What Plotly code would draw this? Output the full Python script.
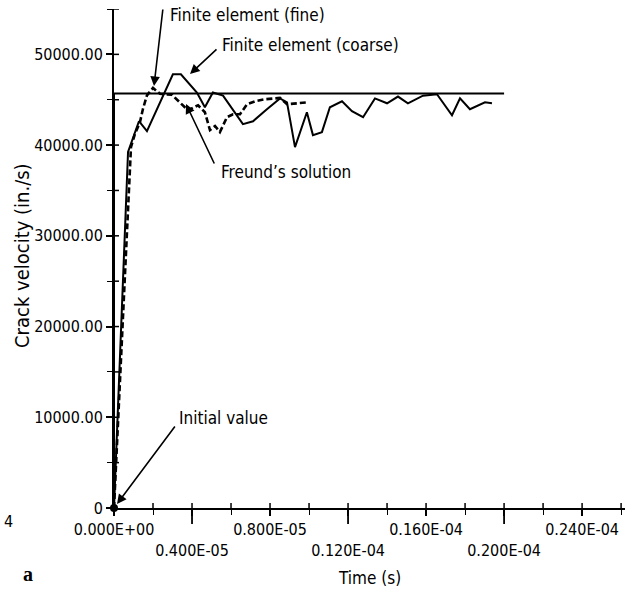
import plotly.graph_objects as go

# ---------------- data ----------------
t_coarse = [0, 0.72e-6, 1.28e-6, 1.69e-6, 3.02e-6, 3.43e-6, 4.25e-6, 4.66e-6, 5.07e-6, 5.59e-6,
            6.61e-6, 7.13e-6, 7.84e-6, 8.51e-6, 8.87e-6, 9.28e-6, 9.89e-6, 10.20e-6, 10.66e-6, 11.07e-6,
            11.69e-6, 12.20e-6, 12.77e-6, 13.38e-6, 14.00e-6, 14.56e-6, 15.07e-6, 15.84e-6, 16.56e-6, 17.33e-6,
            17.74e-6, 18.25e-6, 19.02e-6, 19.38e-6]
v_coarse = [0, 39240, 42630, 41540, 47800, 47800, 45800, 44170, 45800, 45450,
            42310, 42630, 43950, 45150, 44720, 39780, 43620, 41100, 41430, 44170,
            44830, 43730, 43070, 45150, 44610, 45350, 44610, 45450, 45600, 43290,
            45150, 43950, 44720, 44610]

t_fine = [0, 0.87e-6, 1.07e-6, 1.33e-6, 1.48e-6, 1.69e-6, 2.00e-6, 2.36e-6, 2.97e-6, 3.38e-6,
          3.79e-6, 4.31e-6, 4.66e-6, 4.92e-6, 5.18e-6, 5.43e-6, 5.79e-6, 6.10e-6, 6.46e-6, 6.82e-6,
          7.23e-6, 7.74e-6, 8.51e-6, 8.87e-6, 9.38e-6, 9.95e-6]
v_fine = [0, 39780, 41210, 42520, 43950, 45480, 46300, 45650, 45550, 44720,
          43840, 44390, 43620, 41650, 42100, 41430, 43070, 43400, 43400, 44500,
          44830, 45050, 45200, 44500, 44610, 44720]

t_freund = [0, 0, 2.0e-5]
v_freund = [0, 45700, 45700]

x_tickvals = [0, 4e-6, 8e-6, 12e-6, 16e-6, 20e-6, 24e-6]
x_ticktext = ["0.000E+00", "0.400E-05", "0.800E-05", "0.120E-04", "0.160E-04", "0.200E-04", "0.240E-04"]
y_tickvals = [0, 10000, 20000, 30000, 40000, 50000]
y_ticktext = ["0", "10000.00", "20000.00", "30000.00", "40000.00", "50000.00"]

X_MAX = 26.2e-6
Y_MAX = 55000
X_MINOR = 2e-6
Y_MINOR = 5000

# ---------------- layout helpers (pixel -> paper coords for labels) ----------------
L, R, T, B = 114, 3, 9, 87
W, H = 628, 595
PW, PH = W - L - R, H - T - B


def PX(px):
    return (px - L) / PW


def PY(py):
    return (H - B - py) / PH


def X(px):
    return PX(px) * X_MAX


def Y(py):
    return PY(py) * Y_MAX


FONT = "DejaVu Sans Condensed, Liberation Sans Narrow, Arial Narrow, sans-serif"

fig = go.Figure()
fig.add_trace(go.Scatter(x=t_freund, y=v_freund, mode="lines",
                         line=dict(color="black", width=2), showlegend=False))
fig.add_trace(go.Scatter(x=t_coarse, y=v_coarse, mode="lines",
                         line=dict(color="black", width=2), showlegend=False))
fig.add_trace(go.Scatter(x=t_fine, y=v_fine, mode="lines",
                         line=dict(color="black", width=2.6, dash="6px,3px"), showlegend=False))
fig.add_trace(go.Scatter(x=[t_coarse[0]], y=[v_coarse[0]], mode="markers",
                         marker=dict(color="black", size=8), showlegend=False, cliponaxis=False))

xt_text = [txt if i % 2 == 0 else "<br>" + txt for i, txt in enumerate(x_ticktext)]

axis_common = dict(showgrid=False, zeroline=False, showline=True, linecolor="black", linewidth=2,
                   ticks="outside", tickcolor="black", tickwidth=1.6, ticklen=6, tickangle=0,
                   tickfont=dict(family=FONT, size=16, color="black"))

fig.update_layout(
    width=W, height=H,
    margin=dict(l=L, r=R, t=T, b=B),
    paper_bgcolor="white", plot_bgcolor="white",
    xaxis=dict(range=[0, X_MAX], tickmode="array", tickvals=x_tickvals, ticktext=xt_text,
               minor=dict(dtick=X_MINOR, tick0=0, ticks="outside", ticklen=5, tickcolor="black", tickwidth=1.4),
               **axis_common),
    yaxis=dict(range=[0, Y_MAX], tickmode="array", tickvals=y_tickvals, ticktext=y_ticktext,
               minor=dict(dtick=Y_MINOR, tick0=0, ticks="outside", ticklen=5, tickcolor="black", tickwidth=1.4),
               **axis_common),
)

# inner half of the crossing ticks
nx = int(X_MAX / X_MINOR + 1e-9)
for k in range(1, nx + 1):
    tv = k * X_MINOR
    fig.add_shape(type="line", xref="x", yref="y", ysizemode="pixel", yanchor=0,
                  x0=tv, x1=tv, y0=0, y1=5, line=dict(color="black", width=1.5))
ny = int(Y_MAX / Y_MINOR + 1e-9)
for k in range(1, ny + 1):
    tv = k * Y_MINOR
    fig.add_shape(type="line", xref="x", yref="y", xsizemode="pixel", xanchor=0,
                  x0=0, x1=5, y0=tv, y1=tv, line=dict(color="black", width=1.5))

# long ticks under the lower-row labels
for i, tv in enumerate(x_tickvals):
    if i % 2 == 1:
        fig.add_shape(type="line", xref="x", yref="paper", x0=tv, x1=tv, y0=0, y1=-16 / PH,
                      line=dict(color="black", width=1.8))

ann = []


def text(px, py, s, size=17, anchor="left", family=FONT, angle=0):
    ann.append(dict(x=PX(px), y=PY(py), xref="paper", yref="paper", text=s, showarrow=False,
                    xanchor=anchor, yanchor="middle", textangle=angle,
                    font=dict(family=family, size=size, color="black")))


def arrow(tail, tip):
    ann.append(dict(x=X(tip[0]), y=Y(tip[1]), xref="x", yref="y", text="", showarrow=True,
                    ax=tail[0] - tip[0], ay=tail[1] - tip[1], arrowhead=2, arrowsize=1.2,
                    arrowwidth=1.6, arrowcolor="black"))


text(168, 15, "Finite element (fine)")
arrow((163, 8), (154, 86))
text(220, 45, "Finite element (coarse)")
arrow((218, 48), (190, 74))
text(219, 172, "Freund\u2019s solution")
arrow((215, 165), (186, 104))
text(177, 418, "Initial value")
arrow((176, 425), (117, 504))
text(369, 578, "Time (s)", anchor="center")
text(2, 521, "4", size=16)
text(21, 574, "<b>a</b>", size=20, family="Liberation Serif, serif")
text(22, 256, "Crack velocity (in./s)", size=20, anchor="center", angle=-90)

fig.update_layout(annotations=ann)

fig.write_html("out.html")
